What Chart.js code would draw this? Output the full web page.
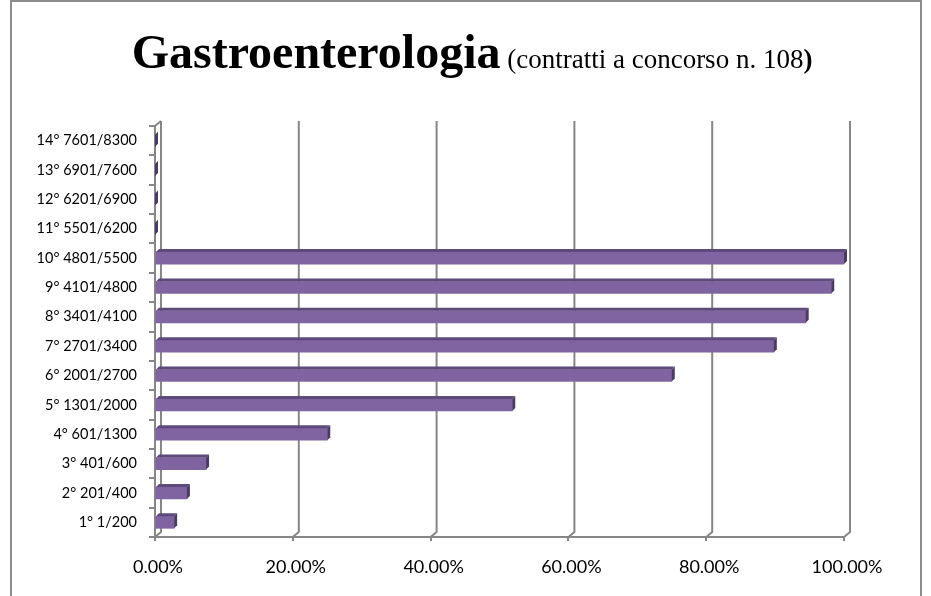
<!DOCTYPE html>
<html>
<head>
<meta charset="utf-8">
<script src="https://cdn.jsdelivr.net/npm/chart.js@4/dist/chart.umd.min.js"></script>
<style>
  html, body { margin: 0; padding: 0; background: #ffffff; }
  #wrap { position: relative; width: 931px; height: 596px; overflow: hidden; }
  #frame { position: absolute; left: 10px; top: 0px; width: 912px; height: 610px; border: 2px solid #8c8c8c; box-sizing: border-box; }
  canvas { position: absolute; left: 0; top: 0; }
</style>
</head>
<body>
<div id="wrap">
  <div id="frame"></div>
  <canvas id="c" width="931" height="596"></canvas>
</div>
<script>
// ---- data ----
const categories = ["1° 1/200", "2° 201/400", "3° 401/600", "4° 601/1300", "5° 1301/2000",
  "6° 2001/2700", "7° 2701/3400", "8° 3401/4100", "9° 4101/4800", "10° 4801/5500",
  "11° 5501/6200", "12° 6201/6900", "13° 6901/7600", "14° 7601/8300"];
const shareValues = [0.0278, 0.0463, 0.0741, 0.25, 0.5185, 0.75, 0.8981, 0.9444, 0.9815, 1.0, 0, 0, 0, 0];
const xTicks = [0, 0.2, 0.4, 0.6, 0.8, 1.0];
const titleMain = "Gastroenterologia";
const titleSub = " (contratti a concorso n. 108";
const titleEnd = ")";

// ---- styles ----
const GRID = "#868686";
const BAR = "#8064A2";
const BAR_TOP = "#5f4a7c";
const BAR_SIDE = "#4b3a63";
const WALL_DX = 6, WALL_DY = 5;   // depth of back wall
const BAR_D = 3;                  // depth of bars

const titlePlugin = {
  id: "titleMixed",
  afterDraw(chart) {
    const ctx = chart.ctx;
    ctx.save();
    ctx.fillStyle = "#000";
    ctx.textBaseline = "alphabetic";
    const fBold = "bold 48px 'Liberation Serif', 'Times New Roman', serif";
    const fReg = "27px 'Liberation Serif', 'Times New Roman', serif";
    const fRegB = "bold 27px 'Liberation Serif', 'Times New Roman', serif";
    ctx.font = fBold; const w1 = ctx.measureText(titleMain).width;
    ctx.font = fReg; const w2 = ctx.measureText(titleSub).width;
    ctx.font = fRegB; const w3 = ctx.measureText(titleEnd).width;
    const total = w1 + w2 + w3;
    let x = 472 - total / 2;
    const base = 68;
    ctx.textAlign = "left";
    ctx.font = fBold; ctx.fillText(titleMain, x, base); x += w1;
    ctx.font = fReg; ctx.fillText(titleSub, x, base); x += w2;
    ctx.font = fRegB; ctx.fillText(titleEnd, x, base);
    ctx.restore();
  }
};

const framePlugin = {
  id: "frame3d",
  beforeDatasetsDraw(chart) {
    const ctx = chart.ctx;
    const xs = chart.scales.x;
    const area = chart.chartArea;
    ctx.save();
    ctx.strokeStyle = GRID;
    ctx.lineWidth = 2;
    xTicks.forEach(v => {
      const fx = xs.getPixelForValue(v);
      const bx = fx + WALL_DX;
      ctx.beginPath();
      ctx.moveTo(bx, area.top - WALL_DY);
      ctx.lineTo(bx, area.bottom - WALL_DY);
      ctx.lineTo(fx, area.bottom);
      ctx.stroke();
    });
    const f0 = xs.getPixelForValue(0);
    ctx.beginPath();
    ctx.moveTo(f0, area.top);
    ctx.lineTo(f0 + WALL_DX, area.top - WALL_DY);
    ctx.stroke();
    ctx.restore();
  },
  afterDatasetsDraw(chart) {
    const ctx = chart.ctx;
    const meta = chart.getDatasetMeta(0);
    ctx.save();
    meta.data.forEach(el => {
      const p = el.getProps(["x", "y", "base", "height"], true);
      const top = p.y - p.height / 2;
      const bot = p.y + p.height / 2;
      const l = Math.min(p.base, p.x), r = Math.max(p.base, p.x);
      if (r - l > 0.5) {
        ctx.fillStyle = BAR_TOP;
        ctx.beginPath();
        ctx.moveTo(l, top);
        ctx.lineTo(l + BAR_D, top - BAR_D);
        ctx.lineTo(r + BAR_D, top - BAR_D);
        ctx.lineTo(r, top);
        ctx.closePath();
        ctx.fill();
      }
      ctx.fillStyle = BAR_SIDE;
      ctx.beginPath();
      ctx.moveTo(r, top);
      ctx.lineTo(r + BAR_D, top - BAR_D);
      ctx.lineTo(r + BAR_D, bot - BAR_D);
      ctx.lineTo(r, bot);
      ctx.closePath();
      ctx.fill();
    });
    ctx.restore();
  }
};

new Chart(document.getElementById("c"), {
  type: "bar",
  data: {
    labels: categories,
    datasets: [{
      data: shareValues,
      backgroundColor: BAR,
      borderWidth: 0,
      barThickness: 12
    }]
  },
  options: {
    indexAxis: "y",
    responsive: false,
    animation: false,
    events: [],
    layout: { padding: { top: 126, right: 87, left: 0, bottom: 0 } },
    plugins: { legend: { display: false }, title: { display: false }, tooltip: { enabled: false } },
    scales: {
      x: {
        min: 0, max: 1,
        afterBuildTicks(s) { s.ticks = xTicks.map(v => ({ value: v })); },
        afterFit(s) { s.height = 59; },
        grid: { drawOnChartArea: false, drawTicks: true, tickLength: 4, color: GRID, lineWidth: 2 },
        border: { display: true, color: GRID, width: 2 },
        ticks: {
          padding: 15,
          labelOffset: 3,
          color: "#000",
          font: { family: "Lato, 'Open Sans', sans-serif", size: 18 },
          maxRotation: 0,
          callback: v => (v * 100).toFixed(2) + "%"
        }
      },
      y: {
        reverse: true,
        afterFit(s) { s.width = 155; },
        grid: { offset: true, drawOnChartArea: false, drawTicks: true, tickLength: 6, color: GRID, lineWidth: 2 },
        border: { display: true, color: GRID, width: 2 },
        ticks: {
          padding: 12,
          color: "#000",
          autoSkip: false,
          font: { family: "Lato, 'Open Sans', sans-serif", size: 14.5 }
        }
      }
    }
  },
  plugins: [framePlugin, titlePlugin]
});
</script>
</body>
</html>
